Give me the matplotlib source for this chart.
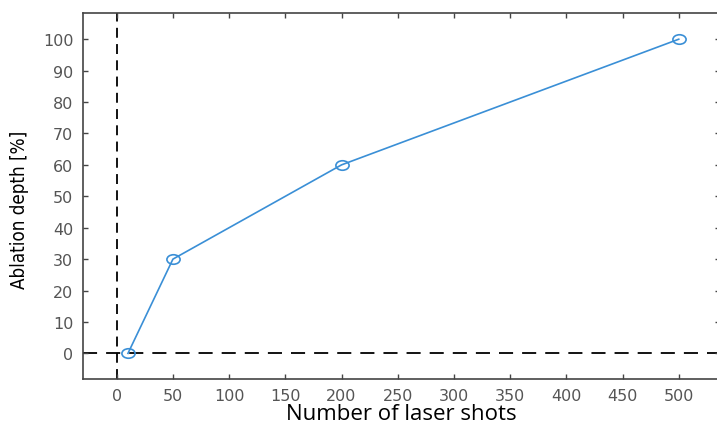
import matplotlib
matplotlib.use("Agg")
import matplotlib.pyplot as plt
from matplotlib.path import Path
import numpy as np

# laser shot count vs ablation depth
shots = [10, 50, 200, 500]
depth = [0, 30, 60, 100]
xticks = np.arange(0, 501, 50)
yticks = np.arange(0, 101, 10)

fig = plt.figure(figsize=(7.17, 4.31), dpi=100)
# right spine sits just past the image edge, like the cropped original
ax = fig.add_axes([83 / 717, 1 - 379.5 / 431, 637 / 717, 366 / 431])

# squashed circle marker (original was stretched horizontally)
circ = Path.unit_circle()
ellipse = Path(circ.vertices * [1.0, 0.72], circ.codes)

ax.axvline(0, color="black", linewidth=1.3, dashes=(5.5, 3.5), zorder=1)
ax.axhline(0, color="black", linewidth=1.3, dashes=(7.8, 5.0), zorder=1)
ax.plot(shots, depth, color="#3a8fd6", linewidth=1.2, marker=ellipse,
        markersize=9.5, markerfacecolor="none", markeredgecolor="#3a8fd6",
        markeredgewidth=1.2, zorder=3)

ax.set_xlim(-30, 536.7)
ax.set_ylim(-8, 108.5)
ax.set_xticks(xticks)
ax.set_yticks(yticks)
ax.tick_params(direction="in", length=3.5, width=1, top=True, right=True,
               colors="#444444", labelcolor="#555555", labelsize=11.5, pad=7)
for s in ax.spines.values():
    s.set_color("#444444")
    s.set_linewidth(1.2)

ax.set_xlabel("Number of laser shots", family=["Open Sans", "DejaVu Sans"],
              fontsize=16, color="black", labelpad=0)
ax.set_ylabel("Ablation depth [%]", family="DejaVu Sans", fontstretch="condensed",
              fontsize=13.5, color="black")
ax.yaxis.set_label_coords(-0.084, 0.463)

fig.savefig("out.png", dpi=100)
